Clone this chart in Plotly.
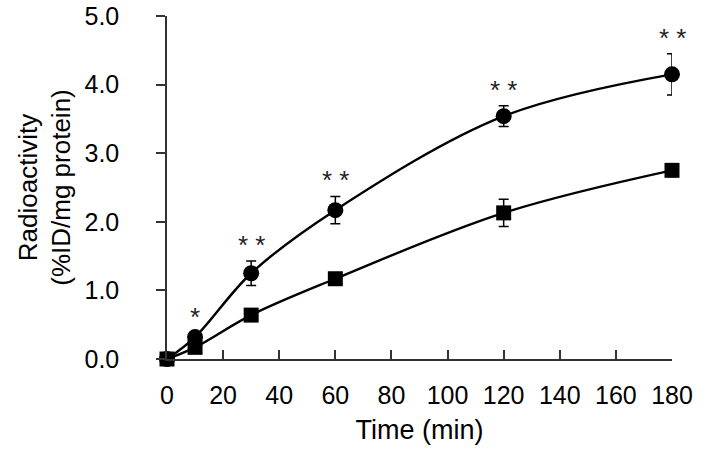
import plotly.graph_objects as go

time_min = [0, 10, 30, 60, 120, 180]
circle_vals = [0.0, 0.32, 1.25, 2.17, 3.54, 4.15]
circle_err = [0.02, 0.06, 0.18, 0.20, 0.15, 0.30]
square_vals = [0.0, 0.17, 0.64, 1.17, 2.13, 2.75]
square_err = [0.02, 0.04, 0.05, 0.05, 0.20, 0.05]
signif = ["", "*", "* *", "* *", "* *", "* *"]

y_ticks = [0, 1, 2, 3, 4, 5]
y_tick_labels = ["0.0", "1.0", "2.0", "3.0", "4.0", "5.0"]
x_ticks = [0, 20, 40, 60, 80, 100, 120, 140, 160, 180]

FONT = "Liberation Sans, Arial, sans-serif"

fig = go.Figure()
fig.add_trace(go.Scatter(
    x=time_min, y=square_vals, mode="lines+markers",
    line=dict(color="black", width=2.4, shape="spline", smoothing=1),
    marker=dict(symbol="square", size=15, color="black"),
    error_y=dict(type="data", array=square_err, color="black", thickness=1.5, width=5),
    cliponaxis=False, showlegend=False,
))
fig.add_trace(go.Scatter(
    x=time_min, y=circle_vals, mode="lines+markers",
    line=dict(color="black", width=2.4, shape="spline", smoothing=1),
    marker=dict(symbol="circle", size=16, color="black"),
    error_y=dict(type="data", array=circle_err, color="black", thickness=1.5, width=5),
    cliponaxis=False, showlegend=False,
))

for x, v, e, s in zip(time_min, circle_vals, circle_err, signif):
    if s:
        fig.add_annotation(x=x, y=v + e, text=s, showarrow=False, yshift=16,
                           font=dict(family=FONT, size=26, color="#222"))

fig.update_layout(
    width=705, height=450,
    margin=dict(l=167, r=33, t=16, b=91, autoexpand=False),
    paper_bgcolor="white", plot_bgcolor="white",
    font=dict(family=FONT, size=25, color="black"),
)
fig.update_xaxes(
    range=[0, 180], tickvals=x_ticks, ticks="inside", ticklen=9, tickwidth=1.5,
    tickcolor="#333", showline=True, linecolor="#333", linewidth=1.5,
    showgrid=False, zeroline=False, ticklabelstandoff=13, automargin=False,
    tickfont=dict(size=25), ticklabeloverflow="allow",
    title=dict(text="Time (min)", font=dict(size=27), standoff=12),
)
fig.update_yaxes(
    range=[0, 5], tickvals=y_ticks, ticktext=y_tick_labels, ticks="outside",
    ticklen=9, tickwidth=1.5, tickcolor="#333", showline=True, linecolor="#333",
    linewidth=1.5, showgrid=False, zeroline=False, ticklabelstandoff=32,
    automargin=False, tickfont=dict(size=25), ticklabeloverflow="allow",
    title=dict(text="Radioactivity<br>(%ID/mg protein)", font=dict(size=26), standoff=6),
)

fig.write_html("out.html", config={"displayModeBar": False},
               post_script="document.body.style.margin='0';")
